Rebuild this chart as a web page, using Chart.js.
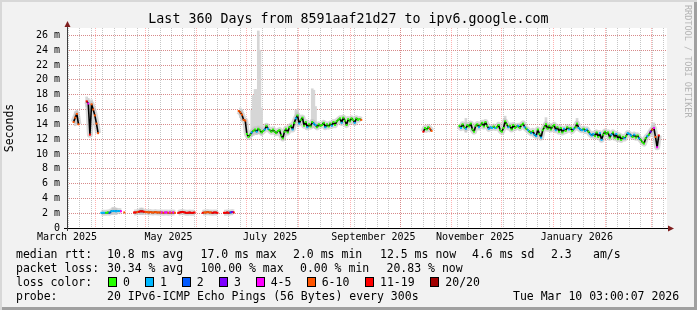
<!DOCTYPE html>
<html>
<head>
<meta charset="utf-8">
<title>smokeping ipv6.google.com</title>
<script src="https://cdn.jsdelivr.net/npm/chart.js@4.4.1/dist/chart.umd.min.js"></script>
<style>
  html, body { margin: 0; padding: 0; background: #f2f2f2; }
  #wrap { position: relative; width: 697px; height: 310px; overflow: hidden; background: #f2f2f2; }
  #grafico { position: absolute; left: 0; top: 0; }
  #frame { position: absolute; left: 0; top: 0; width: 697px; height: 310px; pointer-events: none;
           box-shadow: inset 2px 2px 0 #d8d8d8, inset -3px -3px 0 #a0a0a0; }
  .t { position: absolute; font-family: 'DejaVu Sans Mono', monospace; font-size: 11.5px; line-height: 14px;
       white-space: pre; color: #000; }
  #titolo { position: absolute; left: 0; top: 11px; width: 697px; text-align: center;
            font-family: 'DejaVu Sans Mono', monospace; font-size: 13.3px; line-height: 16px; color: #000; }
  #marca { position: absolute; left: 683px; top: 5px; writing-mode: vertical-rl;
           font-family: 'DejaVu Sans Mono', monospace; font-size: 8.5px; line-height: 10px; color: #b4b4b4; }
  .box { position: absolute; top: 277px; width: 7px; height: 8px; border: 1px solid #000; }
</style>
</head>
<body>
<div id="wrap">
  <canvas id="grafico" width="697" height="310"></canvas>
  <div id="titolo">Last 360 Days from 8591aaf21d27 to ipv6.google.com</div>
  <div id="marca">RRDTOOL / TOBI OETIKER</div>

  <div class="t" style="left:16px;top:247px">median rtt:</div>
  <div class="t" style="left:107px;top:247px">10.8 ms avg</div>
  <div class="t" style="left:200.5px;top:247px">17.0 ms max</div>
  <div class="t" style="left:293px;top:247px">2.0 ms min</div>
  <div class="t" style="left:380px;top:247px">12.5 ms now</div>
  <div class="t" style="left:472px;top:247px">4.6 ms sd</div>
  <div class="t" style="left:551px;top:247px">2.3</div>
  <div class="t" style="left:593px;top:247px">am/s</div>

  <div class="t" style="left:16px;top:261px">packet loss:</div>
  <div class="t" style="left:107px;top:261px">30.34 % avg</div>
  <div class="t" style="left:200.5px;top:261px">100.00 % max</div>
  <div class="t" style="left:300px;top:261px">0.00 % min</div>
  <div class="t" style="left:386.5px;top:261px">20.83 % now</div>

  <div class="t" style="left:16px;top:275px">loss color:</div>
  <div id="legendaPerdite"></div>

  <div class="t" style="left:16px;top:289px">probe:</div>
  <div class="t" style="left:107px;top:289px">20 IPv6-ICMP Echo Pings (56 Bytes) every 300s</div>
  <div class="t" style="left:513px;top:289px">Tue Mar 10 03:00:07 2026</div>

  <div id="frame"></div>
</div>

<script>
// giorni contati da Mar 15 2025 03:00 (inizio del grafico), 360 giorni in tutto
var giorniTotali = 360;

// mediana rtt giornaliera in ms (null = nessun dato)
var mediana = [
  /*   0 */ 14.3, 14.9, 15.4, 14.0, null, null, null, null, 17.1, 16.8,
  /*  10 */ 12.6, 16.7, 16.0, 15.2, 14.1, 12.8, null, 2.05, 2.05, 2.05,
  /*  20 */ 2.05, 2.1, 2.05, 2.25, 2.3, 2.3, 2.25, 2.3, 2.3, 2.25,
  /*  30 */ null, 2.1, null, null, null, null, null, 2.1, 2.1, 2.15,
  /*  40 */ 2.2, 2.25, 2.25, 2.2, 2.15, 2.15, 2.1, 2.15, 2.1, 2.1,
  /*  50 */ 2.15, 2.1, 2.1, 2.1, 2.1, 2.05, 2.1, 2.1, 2.05, 2.1,
  /*  60 */ 2.05, 2.1, 2.05, null, 2.05, 2.1, 2.15, 2.15, 2.1, 2.05,
  /*  70 */ 2.05, 2.1, 2.05, 2.05, 2.1, null, null, null, null, 2.05,
  /*  80 */ 2.1, 2.1, 2.15, 2.1, 2.1, 2.05, 2.1, 2.1, 2.05, null,
  /*  90 */ null, null, 2.05, 2.05, 2.1, 2.05, 2.1, 2.15, 2.1, null,
  /* 100 */ null, 15.8, 15.6, 15.3, 14.6, 14.5, 12.7, 12.3, 12.6, 12.9,
  /* 110 */ 13.1, 13.3, 13.0, 13.4, 13.2, 12.9, 13.1, 13.3, 13.8, 13.4,
  /* 120 */ 13.2, 13.0, 13.3, 13.0, 12.8, 13.1, 13.2, 12.5, 12.1, 13.0,
  /* 130 */ 13.4, 12.9, 13.6, 13.8, 13.3, 14.2, 14.8, 15.2, 14.1, 14.6,
  /* 140 */ 14.9, 13.8, 14.3, 13.6, 14.0, 13.7, 14.3, 14.1, 13.9, 13.6,
  /* 150 */ 14.0, 13.8, 13.9, 14.2, 13.6, 14.0, 13.7, 14.1, 13.8, 14.3,
  /* 160 */ 13.9, 14.4, 14.6, 14.8, 14.2, 14.9, 14.5, 13.9, 14.7, 14.4,
  /* 170 */ 14.8, 14.6, 14.2, 14.8, 14.6, 14.7, 14.6, null, null, null,
  /* 180 */ null, null, null, null, null, null, null, null, null, null,
  /* 190 */ null, null, null, null, null, null, null, null, null, null,
  /* 200 */ null, null, null, null, null, null, null, null, null, null,
  /* 210 */ null, null, null, null, 13.0, 13.5, 13.3, 13.6, 13.4, 13.1,
  /* 220 */ null, null, null, null, null, null, null, null, null, null,
  /* 230 */ null, null, null, null, null, null, 13.8, 13.5, 14.0, 13.6,
  /* 240 */ 13.4, 13.9, 13.7, 14.1, 13.3, 13.0, 13.8, 14.0, 13.6, 13.9,
  /* 250 */ 14.2, 13.7, 14.3, 13.8, 13.4, 13.6, 13.5, 13.7, 13.5, 13.6,
  /* 260 */ 13.9, 13.2, 13.0, 13.5, 14.4, 14.0, 13.6, 13.8, 13.3, 13.9,
  /* 270 */ 13.5, 13.7, 13.8, 13.5, 13.9, 14.1, 13.6, 13.4, 13.2, 13.0,
  /* 280 */ 12.8, 13.1, 12.6, 12.4, 13.3, 12.7, 12.2, 13.2, 13.6, 14.0,
  /* 290 */ 13.4, 13.8, 13.3, 13.7, 13.9, 13.2, 13.6, 13.0, 13.5, 12.9,
  /* 300 */ 13.4, 13.1, 13.6, 13.3, 13.5, 13.1, 13.4, 13.6, 14.1, 13.5,
  /* 310 */ 13.3, 13.2, 13.4, 13.1, 13.3, 13.0, 12.7, 12.5, 12.7, 12.4,
  /* 320 */ 12.9, 12.3, 12.8, 11.9, 12.6, 13.0, 12.7, 12.9, 12.2, 12.6,
  /* 330 */ 12.9, 12.2, 12.7, 12.0, 12.5, 11.9, 12.3, 12.1, 12.4, 12.8,
  /* 340 */ 12.7, 12.5, 12.3, 12.6, 12.2, 12.5, 12.1, 11.9, 11.6, 11.4,
  /* 350 */ 12.1, 12.4, 12.6, 13.0, 13.3, 13.5, 12.3, 10.9, 12.5, null
];

// classe di perdita per ogni giorno (indice in coloriPerdita)
var classePerdita = [
  /*   0 */ 5, 5, 5, 5, null, null, null, null, 6, 4,
  /*  10 */ 6, 5, 5, 5, 5, 5, null, 1, 1, 1,
  /*  20 */ 0, 0, 2, 1, 1, 1, 1, 1, 1, 4,
  /*  30 */ null, 5, null, null, null, null, null, 6, 6, 5,
  /*  40 */ 6, 6, 6, 6, 5, 5, 5, 5, 5, 5,
  /*  50 */ 5, 5, 5, 5, 4, 5, 4, 4, 5, 4,
  /*  60 */ 5, 4, 5, null, 6, 6, 6, 6, 6, 6,
  /*  70 */ 6, 6, 6, 6, 6, null, null, null, null, 6,
  /*  80 */ 5, 5, 5, 5, 5, 6, 6, 6, 6, null,
  /*  90 */ null, null, 6, 6, 6, 6, 2, 3, 6, null,
  /* 100 */ null, 5, 5, 5, 5, 5, 0, 0, 0, 1,
  /* 110 */ 0, 0, 1, 0, 0, 0, 0, 1, 0, 1,
  /* 120 */ 0, 0, 0, 0, 0, 0, 0, 0, 0, 0,
  /* 130 */ 0, 0, 0, 0, 1, 0, 1, 0, 1, 0,
  /* 140 */ 0, 0, 0, 1, 0, 0, 0, 1, 1, 0,
  /* 150 */ 0, 0, 0, 0, 1, 0, 0, 0, 1, 0,
  /* 160 */ 0, 0, 0, 0, 1, 0, 0, 0, 0, 0,
  /* 170 */ 0, 0, 1, 0, 0, 0, 5, null, null, null,
  /* 180 */ null, null, null, null, null, null, null, null, null, null,
  /* 190 */ null, null, null, null, null, null, null, null, null, null,
  /* 200 */ null, null, null, null, null, null, null, null, null, null,
  /* 210 */ null, null, null, null, 6, 0, 0, 0, 5, 5,
  /* 220 */ null, null, null, null, null, null, null, null, null, null,
  /* 230 */ null, null, null, null, null, null, 0, 1, 0, 0,
  /* 240 */ 1, 0, 0, 0, 0, 0, 0, 0, 1, 0,
  /* 250 */ 0, 0, 0, 0, 1, 1, 1, 0, 1, 0,
  /* 260 */ 0, 0, 0, 0, 0, 0, 1, 0, 0, 0,
  /* 270 */ 0, 0, 1, 0, 0, 0, 1, 0, 1, 0,
  /* 280 */ 1, 0, 1, 1, 0, 0, 1, 0, 0, 0,
  /* 290 */ 0, 0, 0, 0, 0, 1, 0, 0, 0, 0,
  /* 300 */ 1, 0, 0, 1, 0, 0, 1, 0, 0, 1,
  /* 310 */ 1, 1, 0, 1, 1, 0, 1, 1, 1, 0,
  /* 320 */ 0, 0, 1, 1, 0, 0, 0, 0, 0, 1,
  /* 330 */ 0, 0, 1, 0, 0, 0, 0, 1, 0, 1,
  /* 340 */ 1, 1, 0, 1, 0, 0, 1, 0, 0, 0,
  /* 350 */ 0, 1, 0, 3, 5, 4, 5, 4, 6, null
];

// fumo (dispersione dei ping) dove esce molto dalla mediana
var fumoGiorno = [1, 2, 8, 9, 11, 24, 25, 26, 41, 42, 102, 103, 109, 110, 111, 112, 113, 114, 115,
                  136, 137, 146, 147, 148, 240, 264, 289, 308, 354, 355];
var fumoMin = [13.8, 14.2, 16.4, 16.0, 15.9, 1.8, 1.8, 1.8, 1.8, 1.8, 14.9, 14.6, 12.4, 12.5, 12.6, 12.6, 12.7, 12.7, 12.5,
               14.2, 14.6, 13.6, 13.5, 13.4, 12.9, 13.6, 13.4, 13.4, 12.6, 12.8];
var fumoMax = [15.7, 15.9, 17.7, 17.5, 17.3, 2.8, 2.8, 2.7, 2.7, 2.7, 16.2, 16.0, 15.9, 17.9, 18.7, 18.7, 26.6, 24.0, 16.2,
               15.9, 16.0, 18.8, 18.6, 16.4, 14.8, 15.1, 14.9, 14.8, 14.1, 14.2];

var coloriPerdita = ['#26ff00', '#00b8ff', '#0059ff', '#7e00ff', '#ff00ff', '#ff5500', '#ff0000', '#a10000'];
var etichettePerdita = ['0', '1', '2', '3', '4-5', '6-10', '11-19', '20/20'];

// griglia asse x: inizio mese (rosso), domeniche (grigio), etichette a meta' mese
var inizioMese = [16.875, 46.875, 77.875, 107.875, 138.875, 169.875, 199.875, 230.875, 260.875, 291.875, 322.875, 350.875];
var primaDomenica = 0.875;
var giornoEtichetta = [0, 60.875, 121.875, 183.875, 244.875, 305.875];
var etichetteMese = ['March 2025', 'May 2025', 'July 2025', 'September 2025', 'November 2025', 'January 2026'];

// asse y
var yMax = 27;
var passoEtichetteY = 2;

// legenda colori perdita (posizioni in px)
var boxX = [108, 145, 182, 219, 256, 307, 365, 430];
var testoX = [123, 160, 196.7, 234, 270.7, 321.7, 380, 445.3];
var legenda = document.getElementById('legendaPerdite');
for (var k = 0; k < etichettePerdita.length; k++) {
    var b = document.createElement('div');
    b.className = 'box';
    b.style.left = boxX[k] + 'px';
    b.style.background = coloriPerdita[k];
    legenda.appendChild(b);
    var t = document.createElement('div');
    t.className = 't';
    t.style.left = testoX[k] + 'px';
    t.style.top = '275px';
    t.textContent = etichettePerdita[k];
    legenda.appendChild(t);
}

var puntiMediana = [];
var coloriPunti = [];
for (var i = 0; i < giorniTotali; i++) {
    puntiMediana.push({ x: i + 0.5, y: mediana[i] });
    coloriPunti.push(classePerdita[i] === null ? 'rgba(0,0,0,0)' : coloriPerdita[classePerdita[i]]);
}
var puntiFumo = [];
for (var j = 0; j < fumoGiorno.length; j++) {
    puntiFumo.push({ x: fumoGiorno[j] + 0.5, y: [fumoMin[j], fumoMax[j]] });
}

var domeniche = [];
for (var d = primaDomenica; d < giorniTotali; d += 7) {
    domeniche.push(d);
}
var righeY = [];
for (var v = 0; v <= yMax; v++) {
    righeY.push(v);
}
var righeYRosse = righeY.filter(function (v) { return v % passoEtichetteY === 0; });

function comeTick(arr) {
    return function (scale) {
        scale.ticks = arr.map(function (v) { return { value: v }; });
    };
}

var fontMono = 'DejaVu Sans Mono';

var sfondoEFrecce = {
    id: 'sfondoEFrecce',
    beforeDraw: function (c) {
        var a = c.chartArea, g = c.ctx;
        g.save();
        g.fillStyle = '#ffffff';
        g.fillRect(a.left, a.top, a.right - a.left, a.bottom - a.top);
        g.restore();
    },
    afterDraw: function (c) {
        var a = c.chartArea, g = c.ctx;
        g.save();
        // asse x
        g.strokeStyle = '#000';
        g.lineWidth = 1;
        g.beginPath();
        g.moveTo(a.left - 3, a.bottom + 0.5);
        g.lineTo(a.right + 2, a.bottom + 0.5);
        g.stroke();
        // asse y
        g.strokeStyle = '#404040';
        g.beginPath();
        g.moveTo(a.left + 0.5, a.bottom + 3);
        g.lineTo(a.left + 0.5, a.top - 2);
        g.stroke();
        // frecce
        g.fillStyle = '#7f1f1f';
        g.beginPath();
        g.moveTo(a.right + 1, a.bottom + 0.5 - 3);
        g.lineTo(a.right + 7, a.bottom + 0.5);
        g.lineTo(a.right + 1, a.bottom + 0.5 + 3);
        g.closePath();
        g.fill();
        g.beginPath();
        g.moveTo(a.left + 0.5 - 3, a.top - 1);
        g.lineTo(a.left + 0.5, a.top - 7);
        g.lineTo(a.left + 0.5 + 3, a.top - 1);
        g.closePath();
        g.fill();
        g.restore();
    }
};

var ctx = document.getElementById('grafico');
var chart = new Chart(ctx, {
    type: 'line',
    data: {
        datasets: [{
            type: 'line',
            label: 'median rtt',
            data: puntiMediana,
            xAxisID: 'x',
            yAxisID: 'y',
            borderColor: '#000000',
            borderWidth: 1.6,
            borderJoinStyle: 'bevel',
            spanGaps: false,
            pointStyle: 'rect',
            pointRadius: 1.4,
            pointBorderWidth: 0,
            pointBackgroundColor: coloriPunti,
            order: 0
        }, {
            type: 'line',
            label: 'smoke',
            data: puntiMediana,
            xAxisID: 'x',
            yAxisID: 'y',
            borderColor: 'rgba(190,190,190,0.6)',
            borderWidth: 6,
            borderJoinStyle: 'round',
            spanGaps: false,
            pointRadius: 0,
            order: 1
        }, {
            type: 'bar',
            label: 'smoke spikes',
            data: puntiFumo,
            xAxisID: 'x',
            yAxisID: 'y',
            backgroundColor: '#d6d6d6',
            barThickness: 2,
            grouped: false,
            order: 2
        }]
    },
    options: {
        responsive: false,
        animation: false,
        devicePixelRatio: 1,
        events: [],
        layout: { padding: { left: 0, top: 28, right: 30, bottom: 0 } },
        plugins: { legend: { display: false }, tooltip: { enabled: false } },
        scales: {
            x: {
                type: 'linear', position: 'bottom', min: 0, max: giorniTotali,
                afterBuildTicks: comeTick(domeniche),
                afterFit: function (s) { s.height = 0; },
                ticks: { display: false },
                grid: { color: '#c6c6c6', lineWidth: 1, drawTicks: false },
                border: { display: false, dash: [1, 1] }
            },
            xm: {
                type: 'linear', position: 'bottom', min: 0, max: giorniTotali,
                afterBuildTicks: comeTick(inizioMese),
                afterFit: function (s) { s.height = 0; },
                ticks: { display: false },
                grid: { color: 'rgba(255,0,0,0.3)', lineWidth: 1, drawTicks: false },
                border: { display: false, dash: [1, 1] }
            },
            xl: {
                type: 'linear', position: 'bottom', min: 0, max: giorniTotali,
                afterBuildTicks: comeTick(giornoEtichetta),
                afterFit: function (s) { s.height = 82; },
                grid: { display: false, drawTicks: false },
                border: { display: false },
                ticks: {
                    autoSkip: false, maxRotation: 0, padding: 3, color: '#000',
                    font: { family: fontMono, size: 10 },
                    callback: function (v, i) { return etichetteMese[i]; }
                }
            },
            y: {
                type: 'linear', position: 'left', min: 0, max: yMax,
                afterBuildTicks: comeTick(righeY),
                afterFit: function (s) { s.width = 67; },
                grid: { color: '#c6c6c6', lineWidth: 1, drawTicks: false },
                border: { display: false, dash: [1, 1] },
                title: { display: true, text: 'Seconds', color: '#000', font: { family: fontMono, size: 11.5 }, padding: { top: 3, bottom: 0 } },
                ticks: {
                    padding: 7, color: '#000', font: { family: fontMono, size: 10 },
                    callback: function (v) {
                        if (v % passoEtichetteY !== 0) { return ''; }
                        return v === 0 ? '0' : v + ' m';
                    }
                }
            },
            ym: {
                type: 'linear', position: 'left', min: 0, max: yMax,
                afterBuildTicks: comeTick(righeYRosse),
                afterFit: function (s) { s.width = 0; },
                ticks: { display: false },
                grid: { color: 'rgba(255,0,0,0.3)', lineWidth: 1, drawTicks: false },
                border: { display: false, dash: [1, 1] }
            }
        }
    },
    plugins: [sfondoEFrecce]
});
</script>
</body>
</html>
